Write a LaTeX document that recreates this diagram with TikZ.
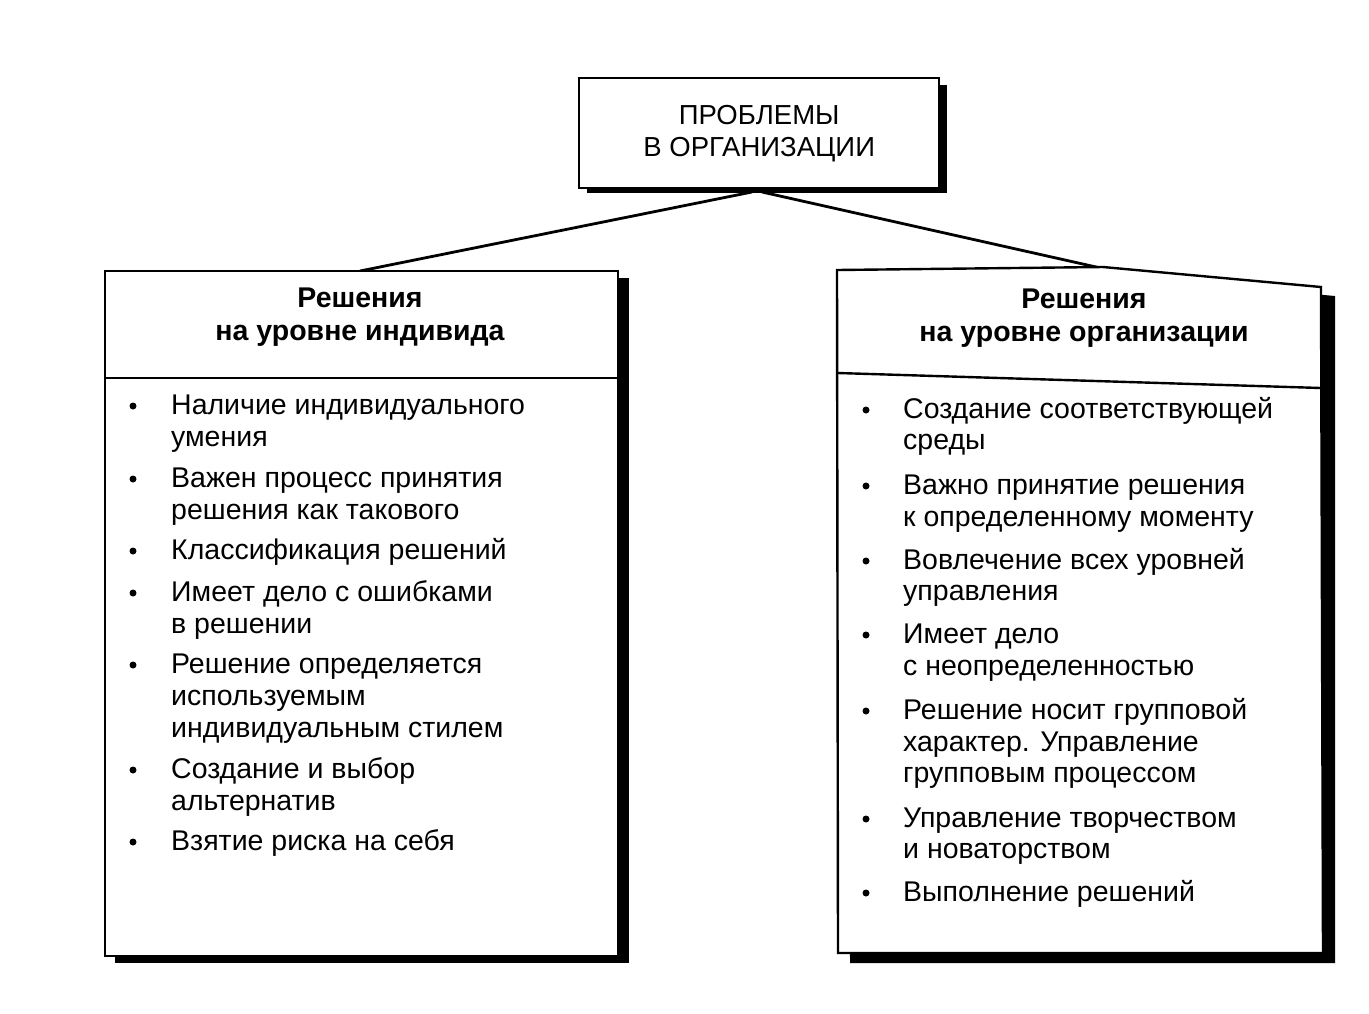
\documentclass[tikz,border=0pt]{standalone}
\usepackage{fontspec}
\setmainfont{Liberation Sans}
\begin{document}
\begin{tikzpicture}[x=1pt,y=-1pt]
\tikzset{
 frame/.style={draw=black, line width=2.4pt, fill=white},
 body/.style={font=\fontsize{28.5}{32}\selectfont, anchor=base west, inner sep=0pt},
 head/.style={font=\bfseries\fontsize{28.5}{33}\selectfont, align=center, inner sep=0pt},
 bul/.style={circle, fill=black, inner sep=0pt, minimum size=7pt},
 conn/.style={line width=2.8pt}
}
\fill[white] (0,0) rectangle (1369,1013);
\useasboundingbox (0,0) rectangle (1369,1013);

% connectors
\coordinate (ltop) at (360,271);
\coordinate (rtop) at (1105,269);
\coordinate (tl) at (752,192);
\coordinate (tr) at (762,192);
\draw[conn] (tl) -- (ltop);
\draw[conn] (tr) -- (rtop);

% top box
\fill (587,85) rectangle (947,193);
\node[frame, minimum width=360pt, minimum height=110pt, anchor=north west,
      font=\fontsize{27.5}{32}\selectfont, align=center, inner sep=0pt] (top) at (578,77)
      {ПРОБЛЕМЫ\\В ОРГАНИЗАЦИИ};

% left box
\fill (115,278) rectangle (629,963);
\node[frame, minimum width=513pt, minimum height=685pt, anchor=north west, inner sep=0pt] (lbox) at (104,270) {};
\draw[line width=2.4pt] (lbox.west |- 0,378) -- (lbox.east |- 0,378);
\node[head] (lhead) at (360,317) {Решения\\на уровне индивида};

% right box
\fill (849,279) -- (1115,276) -- (1335,296) -- (1335,963) -- (850,963) -- cycle;
\filldraw[line width=2.4pt, fill=white] (837,270) -- (1103,267) -- (1321,287) -- (1323,953) -- (838,953) -- cycle;
\draw[line width=2.4pt] (838,373) -- (1321,388);
\node[head] (rhead) at (1084,318) {Решения\\на уровне организации};

% left items
\foreach \y/\t [count=\i] in {414/Наличие индивидуального, 446/умения, 487/Важен процесс принятия, 519/решения как такового, 559/Классификация решений, 601/Имеет дело с ошибками, 633/в решении, 673/Решение определяется, 705/используемым, 737/индивидуальным стилем, 778/Создание и выбор, 810/альтернатив, 850/Взятие риска на себя}
  \node[body] (L\i) at (171,\y) {\t};
\foreach \y [count=\i] in {406,479,551,593,665,770,842}
  \node[bul] (LB\i) at (133,\y) {};

% right items
\foreach \y/\t [count=\i] in {418/Создание соответствующей, 449/среды, 494/Важно принятие решения, 526/к определенному моменту, 569/Вовлечение всех уровней, 600/управления, 643/Имеет дело, 675/с неопределенностью, 719/Решение носит групповой, 751/характер. Управление, 782/групповым процессом, 827/Управление творчеством, 858/и новаторством, 901/Выполнение решений}
  \node[body] (R\i) at (903,\y) {\t};
\foreach \y [count=\i] in {410,486,561,635,711,819,893}
  \node[bul] (RB\i) at (866,\y) {};
\end{tikzpicture}
\end{document}
